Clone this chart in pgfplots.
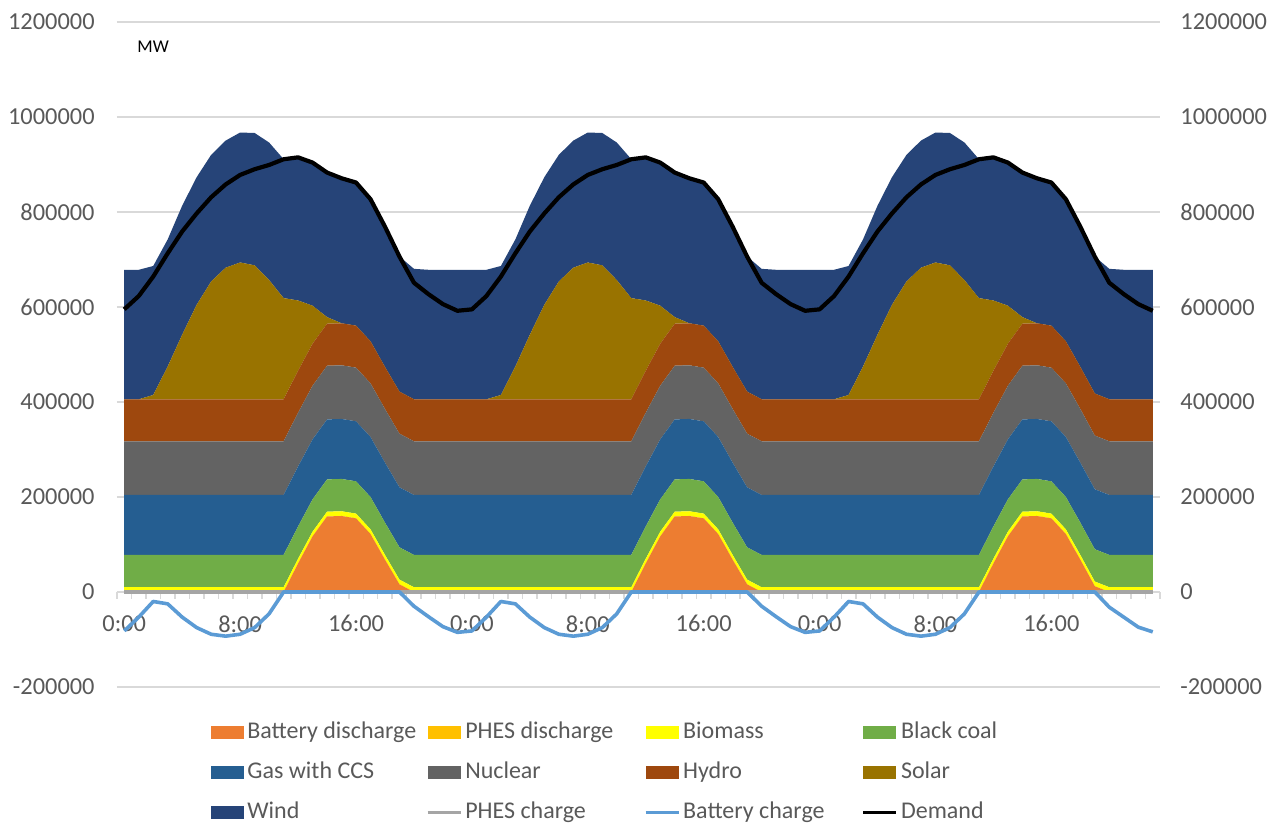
\documentclass[border=0pt]{standalone}
\usepackage{pgfplots}
\pgfplotsset{compat=1.18}
\usepackage{pgfplotstable}
\usepackage{fontspec}
\setmainfont{Carlito}
\definecolor{cBD}{HTML}{ED7D31}
\definecolor{cPD}{HTML}{FFC000}
\definecolor{cBio}{HTML}{FFFF00}
\definecolor{cCoal}{HTML}{70AD47}
\definecolor{cGas}{HTML}{255E91}
\definecolor{cNuc}{HTML}{636363}
\definecolor{cHyd}{HTML}{9E480E}
\definecolor{cSol}{HTML}{997300}
\definecolor{cWind}{HTML}{264478}
\definecolor{cPC}{HTML}{A5A5A5}
\definecolor{cBC}{HTML}{5B9BD5}
\definecolor{cGrid}{HTML}{D9D9D9}
\definecolor{cTxt}{HTML}{595959}

\pgfplotstableread{
x bd pd bio coal gas nuc hyd sol wind pc bc dem
0 0 0 10000 68000 126300 113000 88400 0 272600 0 -82000 595000
1 0 0 10000 68000 126300 113000 88400 0 272600 0 -53000 623000
2 0 0 10000 68000 126300 113000 88400 9000 271600 0 -20000 664000
3 0 0 10000 68000 126300 113000 88400 69000 267600 0 -25000 713000
4 0 0 10000 68000 126300 113000 88400 136000 271600 0 -53000 759000
5 0 0 10000 68000 126300 113000 88400 199000 268600 0 -75000 797000
6 0 0 10000 68000 126300 113000 88400 248000 266600 0 -89000 831000
7 0 0 10000 68000 126300 113000 88400 277000 267600 0 -93000 858000
8 0 0 10000 68000 126300 113000 88400 288000 273600 0 -89000 878000
9 0 0 10000 68000 126300 113000 88400 282000 278600 0 -75000 890000
10 0 0 10000 68000 126300 113000 88400 251000 289600 0 -46000 899000
11 0 0 10000 68000 126300 113000 88400 213000 292600 0 0 911000
12 60000 0 10000 68000 126300 113000 88400 148000 301600 0 0 915000
13 117000 0 10000 68000 126300 113000 88400 80000 301600 0 0 904000
14 159000 0 10000 68000 126300 113000 88400 14000 304600 0 0 883000
15 160000 0 10000 68000 126300 113000 88400 0 305600 0 0 871000
16 155000 0 10000 68000 126300 113000 88400 0 301600 0 0 862000
17 122000 0 10000 68000 126300 113000 88400 0 299600 0 0 827000
18 68000 0 10000 68000 126300 113000 88400 0 295600 0 0 769000
19 16000 0 10000 68000 126300 113000 88400 0 284600 0 0 706000
20 0 0 10000 68000 126300 113000 88400 0 274600 0 -30000 651000
21 0 0 10000 68000 126300 113000 88400 0 272600 0 -52000 627000
22 0 0 10000 68000 126300 113000 88400 0 272600 0 -73000 606000
23 0 0 10000 68000 126300 113000 88400 0 272600 0 -85000 592000
24 0 0 10000 68000 126300 113000 88400 0 272600 0 -82000 595000
25 0 0 10000 68000 126300 113000 88400 0 272600 0 -53000 623000
26 0 0 10000 68000 126300 113000 88400 9000 271600 0 -20000 664000
27 0 0 10000 68000 126300 113000 88400 69000 267600 0 -25000 713000
28 0 0 10000 68000 126300 113000 88400 136000 271600 0 -53000 759000
29 0 0 10000 68000 126300 113000 88400 199000 268600 0 -75000 797000
30 0 0 10000 68000 126300 113000 88400 248000 266600 0 -89000 831000
31 0 0 10000 68000 126300 113000 88400 277000 267600 0 -93000 858000
32 0 0 10000 68000 126300 113000 88400 288000 273600 0 -89000 878000
33 0 0 10000 68000 126300 113000 88400 282000 278600 0 -75000 890000
34 0 0 10000 68000 126300 113000 88400 251000 289600 0 -46000 899000
35 0 0 10000 68000 126300 113000 88400 213000 292600 0 0 911000
36 60000 0 10000 68000 126300 113000 88400 148000 301600 0 0 915000
37 117000 0 10000 68000 126300 113000 88400 80000 301600 0 0 904000
38 159000 0 10000 68000 126300 113000 88400 14000 304600 0 0 883000
39 160000 0 10000 68000 126300 113000 88400 0 305600 0 0 871000
40 155000 0 10000 68000 126300 113000 88400 0 301600 0 0 862000
41 122000 0 10000 68000 126300 113000 88400 0 299600 0 0 827000
42 68000 0 10000 68000 126300 113000 88400 0 295600 0 0 769000
43 16000 0 10000 68000 126300 113000 88400 0 284600 0 0 706000
44 0 0 10000 68000 126300 113000 88400 0 274600 0 -30000 651000
45 0 0 10000 68000 126300 113000 88400 0 272600 0 -52000 627000
46 0 0 10000 68000 126300 113000 88400 0 272600 0 -73000 606000
47 0 0 10000 68000 126300 113000 88400 0 272600 0 -85000 592000
48 0 0 10000 68000 126300 113000 88400 0 272600 0 -82000 595000
49 0 0 10000 68000 126300 113000 88400 0 272600 0 -53000 623000
50 0 0 10000 68000 126300 113000 88400 9000 271600 0 -20000 664000
51 0 0 10000 68000 126300 113000 88400 69000 267600 0 -25000 713000
52 0 0 10000 68000 126300 113000 88400 136000 271600 0 -53000 759000
53 0 0 10000 68000 126300 113000 88400 199000 268600 0 -75000 797000
54 0 0 10000 68000 126300 113000 88400 248000 266600 0 -89000 831000
55 0 0 10000 68000 126300 113000 88400 277000 267600 0 -93000 858000
56 0 0 10000 68000 126300 113000 88400 288000 273600 0 -89000 878000
57 0 0 10000 68000 126300 113000 88400 282000 278600 0 -75000 890000
58 0 0 10000 68000 126300 113000 88400 251000 289600 0 -46000 899000
59 0 0 10000 68000 126300 113000 88400 213000 292600 0 0 911000
60 60000 0 10000 68000 126300 113000 88400 148000 301600 0 0 915000
61 117000 0 10000 68000 126300 113000 88400 80000 301600 0 0 904000
62 159000 0 10000 68000 126300 113000 88400 14000 304600 0 0 883000
63 160000 0 10000 68000 126300 113000 88400 0 305600 0 0 871000
64 155000 0 10000 68000 126300 113000 88400 0 301600 0 0 862000
65 122000 0 10000 68000 126300 113000 88400 0 299600 0 0 827000
66 68000 0 10000 68000 126300 113000 88400 0 295600 0 0 769000
67 12000 0 10000 68000 126300 113000 88400 0 288600 0 0 706000
68 0 0 10000 68000 126300 113000 88400 0 274600 0 -32000 651000
69 0 0 10000 68000 126300 113000 88400 0 272600 0 -53000 627000
70 0 0 10000 68000 126300 113000 88400 0 272600 0 -74000 606000
71 0 0 10000 68000 126300 113000 88400 0 272600 0 -84000 592000
}\datatab

\pgfplotsset{
  swatch/.style={legend image code/.code={\fill[##1] (0pt,-3.25pt) rectangle (16.5pt,3.25pt);}},
  lineleg/.style={legend image code/.code={\draw[##1] (0pt,0pt) -- (16.5pt,0pt);}},
  base/.style={
    at={(58.5pt,68pt)}, anchor=south west, scale only axis,
    width=521.5pt, height=332.5pt,
    xmin=-0.5, xmax=71.5, ymin=-200000, ymax=1200000,
    scaled y ticks=false, scaled x ticks=false,
    ytick={-200000,0,200000,400000,600000,800000,1000000,1200000},
    yticklabels={-200000,0,200000,400000,600000,800000,1000000,1200000},
    tick label style={font=\fontsize{12.2}{14}\selectfont, text=cTxt},
    major tick length=0pt,
  },
}
\begin{document}
\begin{tikzpicture}
\useasboundingbox (0,0) rectangle (641pt,411.5pt);
\begin{axis}[base,
  stack plots=y,
  axis x line*=middle, axis y line*=left,
  x axis line style={draw=cGrid, line width=0.75pt, -},
  y axis line style={draw=none},
  hide obscured x ticks=false, hide obscured y ticks=false,
  ymajorgrids, grid style={draw=cGrid, line width=0.6pt},
  xtick={0,8,...,64},
  xticklabels={0:00,8:00,16:00,0:00,8:00,16:00,0:00,8:00,16:00},
  minor xtick={-0.5,0.5,...,71.5},
  minor tick length=3.5pt, xtick align=outside,
  minor tick style={draw=cGrid, line width=0.75pt},
  xticklabel style={anchor=north, inner sep=0pt, yshift=-11.5pt},
  yticklabel style={anchor=east, inner sep=0pt, xshift=-11pt},
  legend columns=4, legend cell align=left,
  legend style={draw=none, fill=none, inner sep=0pt,
    at={(0.0901,0)}, anchor=north west, yshift=-17pt,
    nodes={inner xsep=1.5pt, inner ysep=0pt, text height=8.5pt, text depth=2.5pt,
      font=\fontsize{12}{14}\selectfont, text=cTxt},
    row sep=9pt},
]
\addplot[swatch, fill=cBD, draw=none] table[x=x,y=bd]{\datatab} \closedcycle;
\addlegendentry{\makebox[87.8pt][l]{Battery discharge}}
\addplot[swatch, fill=cPD, draw=none] table[x=x,y=pd]{\datatab} \closedcycle;
\addlegendentry{\makebox[87.8pt][l]{PHES discharge}}
\addplot[swatch, fill=cBio, draw=none] table[x=x,y=bio]{\datatab} \closedcycle;
\addlegendentry{\makebox[87.8pt][l]{Biomass}}
\addplot[swatch, fill=cCoal, draw=none] table[x=x,y=coal]{\datatab} \closedcycle;
\addlegendentry{\makebox[87.8pt][l]{Black coal}}
\addplot[swatch, fill=cGas, draw=none] table[x=x,y=gas]{\datatab} \closedcycle;
\addlegendentry{\makebox[87.8pt][l]{Gas with CCS}}
\addplot[swatch, fill=cNuc, draw=none] table[x=x,y=nuc]{\datatab} \closedcycle;
\addlegendentry{\makebox[87.8pt][l]{Nuclear}}
\addplot[swatch, fill=cHyd, draw=none] table[x=x,y=hyd]{\datatab} \closedcycle;
\addlegendentry{\makebox[87.8pt][l]{Hydro}}
\addplot[swatch, fill=cSol, draw=none] table[x=x,y=sol]{\datatab} \closedcycle;
\addlegendentry{\makebox[87.8pt][l]{Solar}}
\addplot[swatch, fill=cWind, draw=none] table[x=x,y=wind]{\datatab} \closedcycle;
\addlegendentry{\makebox[87.8pt][l]{Wind}}
\addlegendimage{lineleg, draw=cPC, line width=1.65pt}
\addlegendentry{\makebox[87.8pt][l]{PHES charge}}
\addlegendimage{lineleg, draw=cBC, line width=1.65pt}
\addlegendentry{\makebox[87.8pt][l]{Battery charge}}
\addlegendimage{lineleg, draw=black, line width=1.65pt}
\addlegendentry{\makebox[87.8pt][l]{Demand}}
\end{axis}
\begin{axis}[base,
  hide x axis,
  axis y line*=right, y axis line style={draw=none},
  yticklabel pos=right,
  yticklabel style={anchor=west, inner sep=0pt, xshift=10pt},
]
\addplot[cPC, line width=1.65pt] table[x=x,y=pc]{\datatab};
\addplot[cBC, line width=1.8pt, line join=round] table[x=x,y=bc]{\datatab};
\addplot[black, line width=2.1pt, line join=round] table[x=x,y=dem]{\datatab};
\end{axis}
\node[anchor=west, inner sep=0pt, font=\fontsize{9}{11}\selectfont] at (68.5pt,388pt) {MW};
\end{tikzpicture}
\end{document}
